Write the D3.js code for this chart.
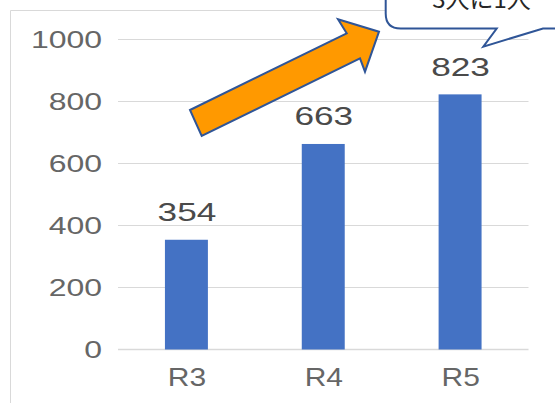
<!DOCTYPE html>
<html><head><meta charset="utf-8">
<script src="https://cdn.jsdelivr.net/npm/d3@7"></script>
<style>body{margin:0;background:#fff;} svg{display:block}</style>
</head><body><svg id="c" width="555" height="403"></svg>
<script>
const categories = ["R3", "R4", "R5"];
const values = [354, 663, 823];
const yTicks = [0, 200, 400, 600, 800, 1000];
const calloutText = "3人に1人";

const svg = d3.select("#c");
const FONT = "'Liberation Sans', Arial, sans-serif";

const x = d3.scaleBand().domain(categories).range([118, 528.5]).paddingInner(0.686).paddingOuter(0.343);
const y = d3.scaleLinear().domain([0, 1000]).range([349.5, 39.5]);

// chart frame
svg.append("path").attr("d", "M10.5,403 L10.5,10.5 L555,10.5")
  .attr("fill", "none").attr("stroke", "#d9d9d9").attr("stroke-width", 1);

// gridlines
svg.append("g").selectAll("line").data(yTicks).join("line")
  .attr("x1", 118).attr("x2", 528.5)
  .attr("y1", d => y(d)).attr("y2", d => y(d))
  .attr("stroke", "#d9d9d9").attr("stroke-width", d => d === 0 ? 1.5 : 1);

// y axis labels
const ya = svg.append("g").attr("transform", "translate(100,0)")
  .call(d3.axisLeft(y).tickValues(yTicks).tickSize(0).tickPadding(0).tickFormat(d3.format("d")));
ya.select(".domain").remove();
ya.selectAll("text").attr("font-family", FONT).attr("font-size", 23.5).attr("fill", "#666666")
  .attr("x", 1.5).attr("dy", "0.36em").attr("transform", "scale(1.36,1)");

// x axis labels
const xa = svg.append("g").attr("transform", "translate(0,349.5)")
  .call(d3.axisBottom(x).tickSize(0).tickPadding(0));
xa.select(".domain").remove();
xa.selectAll("text").attr("font-family", FONT).attr("font-size", 25).attr("fill", "#666666")
  .attr("dy", 0).attr("y", 36.5).attr("x", 0.5).attr("transform", "scale(1.2,1)");

// bars
svg.append("g").selectAll("rect").data(values).join("rect")
  .attr("x", (d, i) => x(categories[i]))
  .attr("width", x.bandwidth())
  .attr("y", d => y(d))
  .attr("height", d => y(0) - y(d))
  .attr("fill", "#4472C4");

// data labels
svg.append("g").selectAll("g").data(values).join("g")
  .attr("transform", (d, i) => `translate(${x(categories[i]) + x.bandwidth() / 2 + 0.5},${y(d) - 18.5}) scale(1.38,1)`)
  .append("text")
  .attr("text-anchor", "middle")
  .attr("font-family", FONT).attr("font-size", 25.5).attr("fill", "#4a4a4a")
  .text(d => d);

// arrow annotation
const arrowPts = [[190, 110], [346.7, 33.3], [338, 19.3], [379, 31.7], [365, 71.7], [360, 58.3], [201.7, 136]];
svg.append("polygon").attr("points", arrowPts.map(p => p.join(",")).join(" "))
  .attr("fill", "#FF9900").attr("stroke", "#2F5597").attr("stroke-width", 2).attr("stroke-linejoin", "miter");

// callout bubble
svg.append("path")
  .attr("d", "M385.7,-60 L385.7,13.5 Q385.7,28.5 400.7,28.5 L496.7,28.5 L483.3,46.7 L543,28.5 L600,28.5 L600,-60 Z")
  .attr("fill", "#fff").attr("stroke", "#2F5597").attr("stroke-width", 2);
svg.append("text").attr("x", 481.5).attr("y", 8).attr("text-anchor", "middle")
  .attr("font-family", "'Noto Sans CJK JP', sans-serif").attr("font-size", 24).attr("fill", "#262626")
  .text(calloutText);
</script></body></html>
